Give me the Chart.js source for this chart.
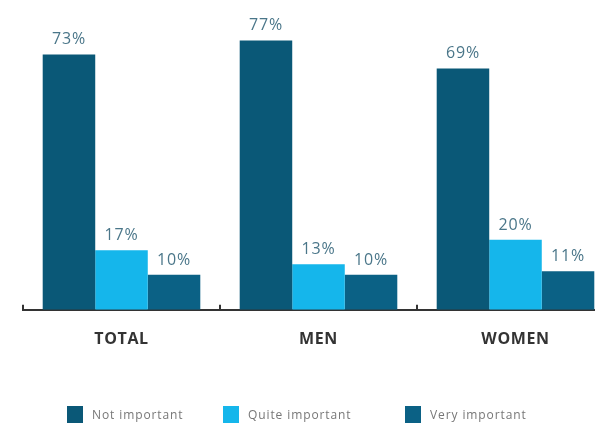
<!DOCTYPE html>
<html>
<head>
<meta charset="utf-8">
<script src="https://cdn.jsdelivr.net/npm/chart.js@4.4.1/dist/chart.umd.min.js"></script>
<style>
  html, body { margin: 0; padding: 0; background: #fff; overflow: hidden; }
  #wrap { position: relative; width: 620px; height: 428px; }
  #legend { position: absolute; left: 67px; top: 406px; display: flex; align-items: center;
            font-family: "Open Sans", sans-serif; font-size: 12px; color: #777; letter-spacing: 0.9px; }
  .item { display: flex; align-items: center; }
  .item .box { width: 16px; height: 17px; margin-right: 9px; }
</style>
</head>
<body>
<div id="wrap">
  <canvas id="c" width="620" height="428"></canvas>
  <div id="legend"></div>
</div>
<script>
// Survey groups and share of answers per group (%)
const categories = ["TOTAL", "MEN", "WOMEN"];
const seriesNames = ["Not important", "Quite important", "Very important"];
const notImportant = [73, 77, 69];
const quiteImportant = [17, 13, 20];
const veryImportant = [10, 10, 11];

const colors = ["#0a5877", "#15b6eb", "#0b6185"];
const legendWidths = [156, 182, 140];

// Slightly spaced lettering for all canvas text
const spacing = {
  id: "spacing",
  beforeDraw(chart) { chart.ctx.letterSpacing = "0.6px"; }
};

// Percent labels above each bar
const valueLabels = {
  id: "valueLabels",
  afterDatasetsDraw(chart) {
    const ctx = chart.ctx;
    ctx.save();
    ctx.letterSpacing = "0.8px";
    ctx.font = "16px 'Open Sans', sans-serif";
    ctx.fillStyle = "#4a7689";
    ctx.textAlign = "center";
    ctx.textBaseline = "alphabetic";
    chart.data.datasets.forEach((ds, di) => {
      chart.getDatasetMeta(di).data.forEach((bar, i) => {
        ctx.fillText(ds.data[i] + "%", bar.x, bar.y - 10);
      });
    });
    ctx.restore();
  }
};

// Short upward ticks on the baseline between groups
const groupTicks = {
  id: "groupTicks",
  afterDatasetsDraw(chart) {
    const x = chart.scales.x;
    const ctx = chart.ctx;
    const step = (x.right - x.left) / categories.length;
    ctx.save();
    ctx.strokeStyle = "#333";
    ctx.lineWidth = 2;
    for (let i = 0; i <= categories.length; i++) {
      const px = Math.round(x.left + i * step);
      ctx.beginPath();
      ctx.moveTo(px, x.top);
      ctx.lineTo(px, x.top - 5);
      ctx.stroke();
    }
    ctx.restore();
  }
};

const chart = new Chart(document.getElementById("c"), {
  type: "bar",
  data: {
    labels: categories,
    datasets: [
      { label: seriesNames[0], data: notImportant, backgroundColor: colors[0] },
      { label: seriesNames[1], data: quiteImportant, backgroundColor: colors[1] },
      { label: seriesNames[2], data: veryImportant, backgroundColor: colors[2] }
    ]
  },
  options: {
    responsive: false,
    animation: false,
    layout: { padding: { top: 30, left: 23, right: 6, bottom: 59 } },
    datasets: { bar: { categoryPercentage: 0.8, barPercentage: 1.0 } },
    plugins: { legend: { display: false }, tooltip: { enabled: false } },
    scales: {
      y: { display: false, min: 0, max: 80 },
      x: {
        grid: { display: false, drawTicks: false },
        border: { display: true, color: "#333", width: 2 },
        ticks: { padding: 20, color: "#333", font: { family: "'Open Sans', sans-serif", size: 16, weight: "bold" } }
      }
    }
  },
  plugins: [spacing, valueLabels, groupTicks]
});

// Legend row built from the chart's datasets
const legend = document.getElementById("legend");
chart.data.datasets.forEach((ds, i) => {
  const item = document.createElement("div");
  item.className = "item";
  item.style.width = legendWidths[i] + "px";
  const box = document.createElement("span");
  box.className = "box";
  box.style.background = ds.backgroundColor;
  const txt = document.createElement("span");
  txt.textContent = ds.label;
  item.appendChild(box);
  item.appendChild(txt);
  legend.appendChild(item);
});
</script>
</body>
</html>
